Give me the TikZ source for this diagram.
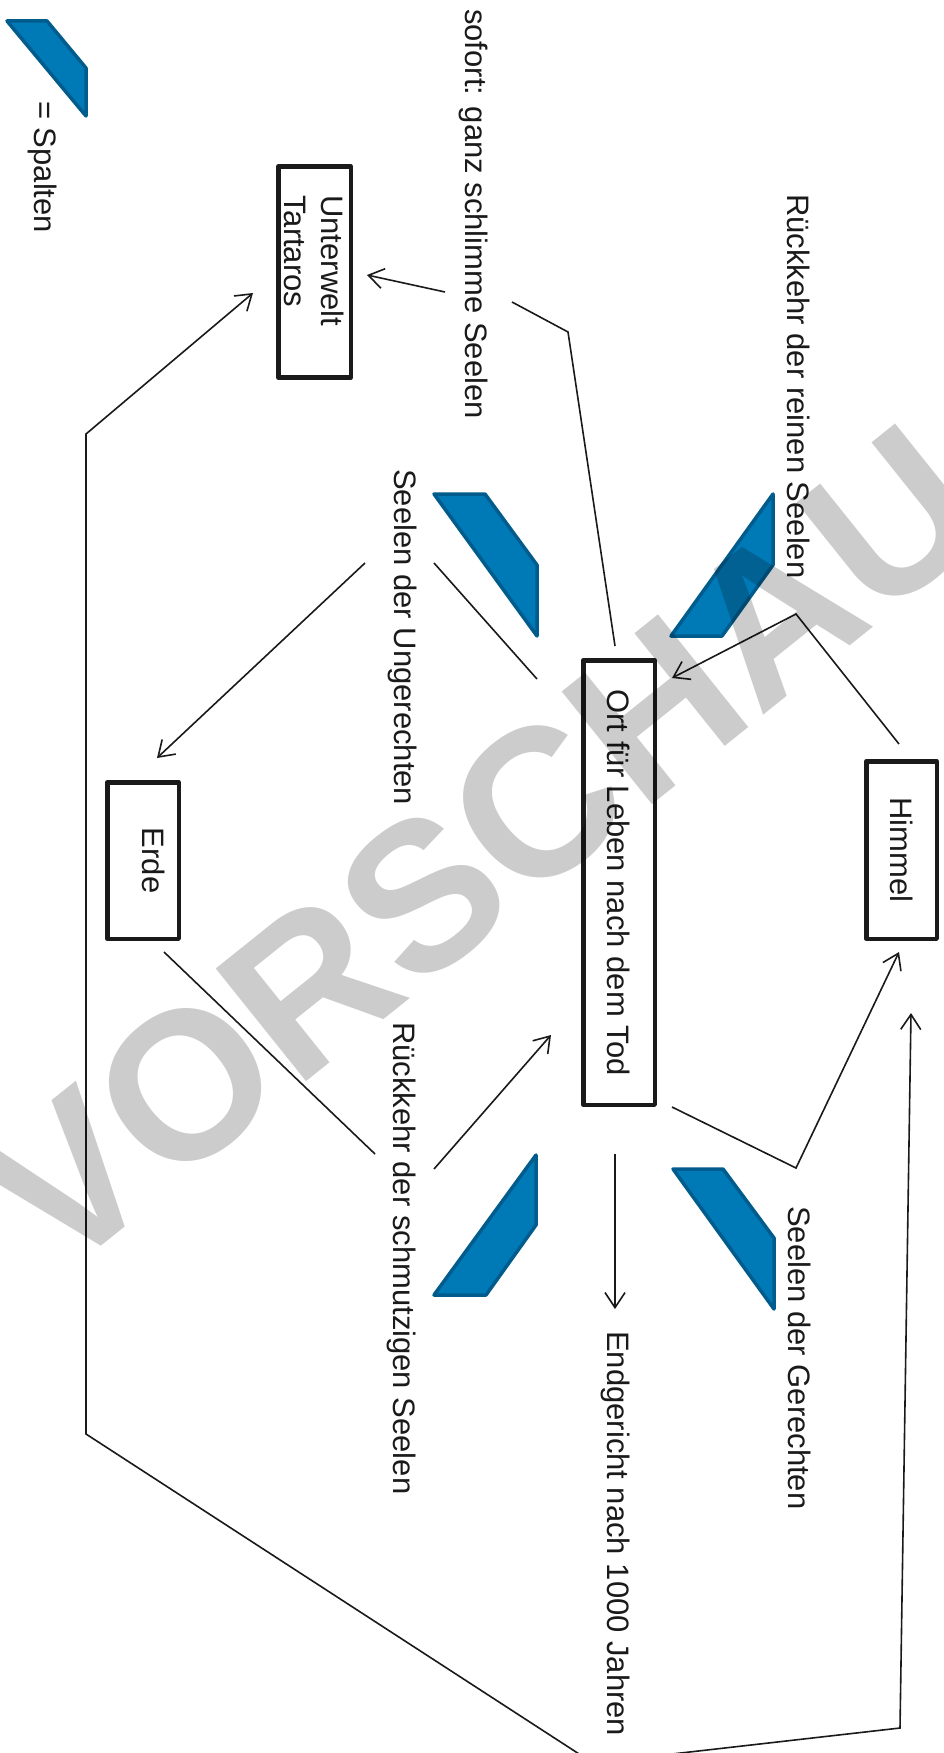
\documentclass[tikz,border=0pt]{standalone}
\usepackage{fontspec}
\setmainfont{Liberation Sans}
\usetikzlibrary{arrows.meta}
\definecolor{spaltfill}{RGB}{0,122,183}
\definecolor{spaltline}{RGB}{0,92,140}
\definecolor{ink}{RGB}{26,26,26}
\newcommand{\mysz}{\fontsize{31}{37}\selectfont}
\begin{document}
\begin{tikzpicture}[x=1pt,y=-1pt,
  box/.style={draw=ink, line width=4.5pt, line join=round, rotate=-90, inner sep=0pt, font=\mysz, text=ink, align=center},
  lbl/.style={rotate=-90, anchor=base west, inner sep=0pt, font=\mysz, text=ink},
  conn/.style={draw=ink, line width=1.6pt, line join=miter},
  arr/.style={conn, -{Straight Barb[length=15pt,width=20pt]}},
  spalt/.style={fill=spaltfill, draw=spaltline, line width=3.5pt, line join=round},
]
\useasboundingbox (0,0) rectangle (944,1753);
\fill[white] (0,0) rectangle (944,1753);
\clip (0,0) rectangle (944,1753);

% legend
\draw[spalt] (7,21) -- (47,21) -- (86,68) -- (86,116) -- cycle;
\node[lbl] (legend) at (34,101) {= Spalten};

% boxes
\node[box, minimum height=72.5pt, inner xsep=28.75pt, text width=153.5pt, align=left] (tart) at (314.5,272) {Unterwelt\\Tartaros};
\node[box, minimum width=444.5pt, minimum height=71.5pt] (ort) at (619,882.5) {Ort für Leben nach dem Tod};
\node[box, minimum width=177.5pt, minimum height=70.5pt] (himmel) at (901.5,850) {Himmel};
\node[box, minimum width=156.5pt, minimum height=71.5pt, text depth=22pt] (erde) at (143,860.5) {Erde};

% labels
\node[lbl] (sofort) at (465,9) {sofort: ganz schlimme Seelen};
\node[lbl] (reinen) at (787,194) {Rückkehr der reinen Seelen};
\node[lbl] (unger) at (394,469) {Seelen der Ungerechten};
\node[lbl] (schmutz) at (393,1022) {Rückkehr der schmutzigen Seelen};
\node[lbl] (gerecht) at (788,1206) {Seelen der Gerechten};
\node[lbl] (endg) at (607,1331) {Endgericht nach 1000 Jahren};

% spalten
\draw[spalt] (434,494) -- (485,494) -- (537,565) -- (537,636) -- cycle;
\draw[spalt] (773,494) -- (773,565) -- (722,636) -- (671,636) -- cycle;
\draw[spalt] (536,1155) -- (536,1225) -- (486,1295) -- (434,1295) -- cycle;
\draw[spalt] (673,1169) -- (723,1169) -- (774,1238) -- (774,1309) -- cycle;

% coordinates
\coordinate (s1) at (615,646);
\coordinate (s2) at (568,332);
\coordinate (s3) at (512,302);
\coordinate (t1) at (445,292);
\coordinate (t2) at (367,275);
\coordinate (J) at (593,1763);
\coordinate (e1) at (86,1434);
\coordinate (e2) at (86,434);
\coordinate (e3) at (253,293);
\coordinate (h1) at (900,1728);
\coordinate (h2) at (911,1013);
\coordinate (u1) at (537,679);
\coordinate (u2) at (434,563);
\coordinate (u3) at (365,563);
\coordinate (u4) at (157,758);
\coordinate (m1) at (164,952);
\coordinate (m2) at (375,1154);
\coordinate (m3) at (434,1169);
\coordinate (m4) at (551,1035);
\coordinate (g1) at (672,1107);
\coordinate (g2) at (796,1168);
\coordinate (g3) at (899,952);
\coordinate (r1) at (899,744);
\coordinate (r2) at (796,614);
\coordinate (r3) at (672,678);
\coordinate (d1) at (615,1154);
\coordinate (d2) at (615,1309);

% connectors
\draw[conn] (s1) -- (s2) -- (s3);
\draw[arr] (t1) -- (t2);
\draw[arr] (J) -- (e1) -- (e2) -- (e3);
\draw[arr] (J) -- (h1) -- (h2);
\draw[conn] (u1) -- (u2);
\draw[arr] (u3) -- (u4);
\draw[conn] (m1) -- (m2);
\draw[arr] (m3) -- (m4);
\draw[arr] (g1) -- (g2) -- (g3);
\draw[arr] (r1) -- (r2) -- (r3);
\draw[arr] (d1) -- (d2);

% watermark
\node[rotate=38.7, font=\fontsize{210}{210}\selectfont\bfseries, text=black, text opacity=0.2, inner sep=0pt] (wm) at (482,848) {VORSCHAU};
\end{tikzpicture}
\end{document}
